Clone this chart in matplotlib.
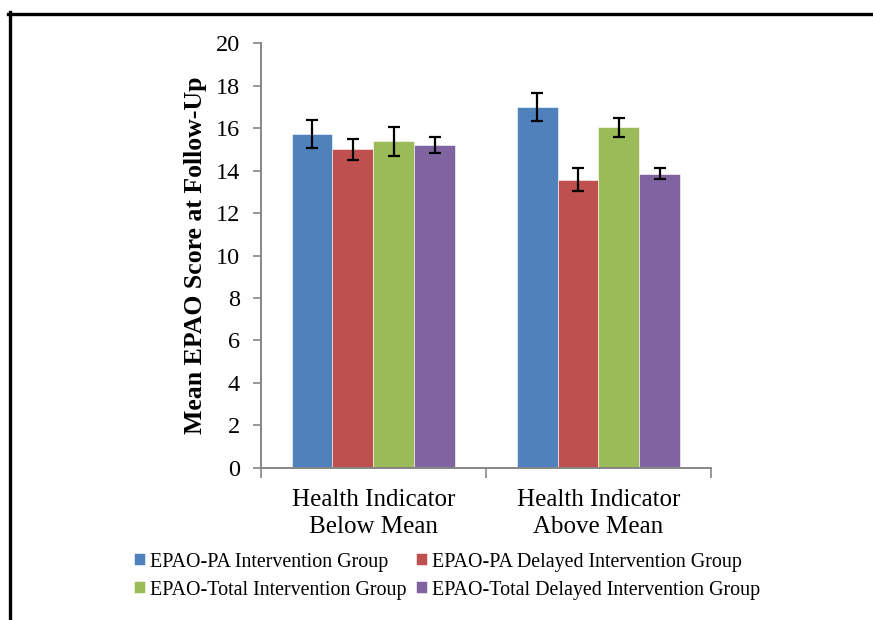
import matplotlib
matplotlib.use("Agg")
import matplotlib.pyplot as plt
import numpy as np
from matplotlib.lines import Line2D

categories = ["Health Indicator\nBelow Mean", "Health Indicator\nAbove Mean"]
series_names = ["EPAO-PA Intervention Group", "EPAO-PA Delayed Intervention Group",
                "EPAO-Total Intervention Group", "EPAO-Total Delayed Intervention Group"]
pa_int = [15.72, 17.00]
pa_del = [15.00, 13.58]
tot_int = [15.38, 16.04]
tot_del = [15.21, 13.86]
pa_int_err = [0.65, 0.65]
pa_del_err = [0.49, 0.52]
tot_int_err = [0.67, 0.45]
tot_del_err = [0.38, 0.27]
yticks = list(range(0, 21, 2))

colors = ["#4F81BD", "#C0504D", "#9BBB59", "#8064A2"]
values = [pa_int, pa_del, tot_int, tot_del]
errors = [pa_int_err, pa_del_err, tot_int_err, tot_del_err]

plt.rcParams["font.family"] = ["Liberation Serif", "DejaVu Serif"]

fig = plt.figure(figsize=(8.73, 6.2), dpi=100)
ax = fig.add_axes([260.7 / 873, 1 - 467.7 / 620, (711 - 260.7) / 873, (467.7 - 43.3) / 620])

x = np.arange(len(categories))
w = 0.1816
for i, (vals, errs, c) in enumerate(zip(values, errors, colors)):
    ax.bar(x + (i - 1.5) * w, vals, width=w, color=c, edgecolor="white", linewidth=0.4,
           label=series_names[i], zorder=2)
    ax.errorbar(x + (i - 1.5) * w, vals, yerr=errs, fmt="none", ecolor="black",
                elinewidth=1.6, capsize=4, capthick=1.6, zorder=3)

ax.set_xlim(-0.5, 1.5)
ax.set_ylim(0, 20)
ax.set_yticks(yticks)
ax.set_yticklabels([str(t) for t in yticks], fontsize=17.5)
ax.set_xticks(x)
ax.set_xticklabels(categories, fontsize=18, linespacing=1.35)
ax.set_xticks([-0.5, 0.5, 1.5], minor=True)
ax.tick_params(axis="x", which="major", length=0, pad=15)
ax.tick_params(axis="x", which="minor", length=7, width=1.2, color="#868686", direction="out")
ax.tick_params(axis="y", length=6, width=1.2, color="#868686", direction="out", pad=9)
for s in ["top", "right"]:
    ax.spines[s].set_visible(False)
for s in ["left", "bottom"]:
    ax.spines[s].set_color("#868686")
    ax.spines[s].set_linewidth(1.4)

ax.set_ylabel("Mean EPAO Score at Follow-Up", fontsize=18.5, fontweight="bold", labelpad=6)

handles, labels = ax.get_legend_handles_labels()
order = [0, 2, 1, 3]
leg = fig.legend([handles[k] for k in order], [labels[k] for k in order], loc="center",
                 bbox_to_anchor=(447 / 873, 1 - 576 / 620),
                 ncol=2, frameon=False, fontsize=14.4, handlelength=0.55, handleheight=0.55,
                 handletextpad=0.25, columnspacing=0.5, labelspacing=0.45, borderaxespad=0)

# outer frame (cropped border)
fig.add_artist(Line2D([8 / 873, 1.0], [1 - 13.5 / 620, 1 - 13.5 / 620], color="black",
                      linewidth=2.4, transform=fig.transFigure))
fig.add_artist(Line2D([9.5 / 873, 9.5 / 873], [0, 1 - 12 / 620], color="black",
                      linewidth=2.4, transform=fig.transFigure))

fig.savefig("out.png", dpi=100)
